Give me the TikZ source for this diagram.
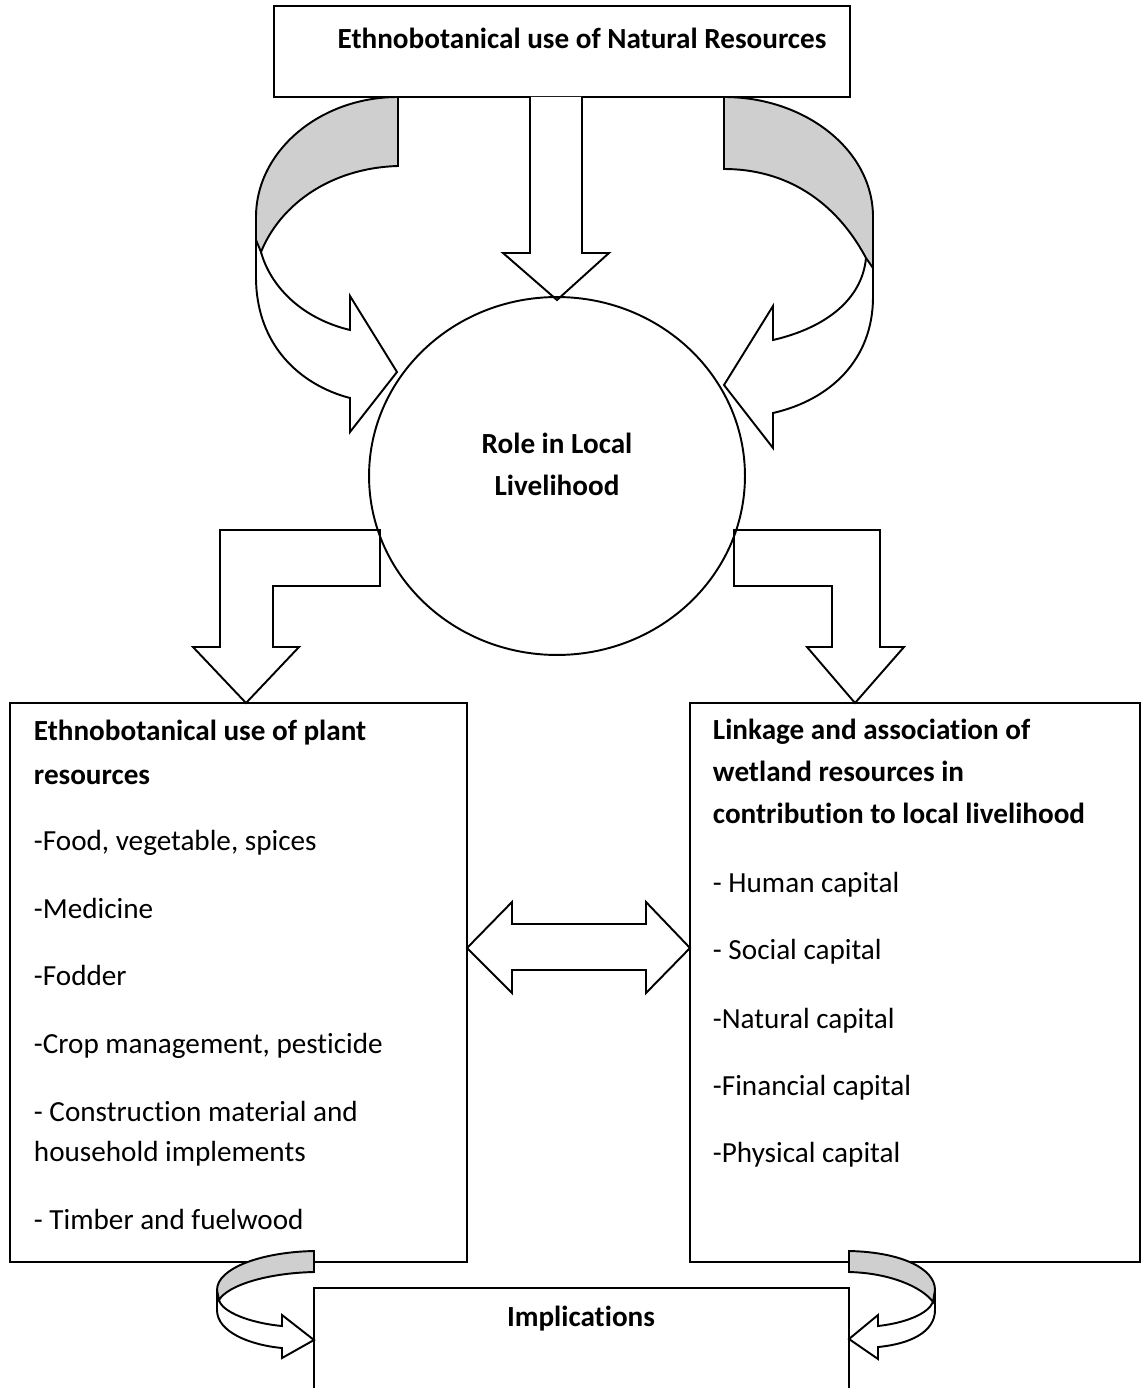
\documentclass[tikz,border=0pt]{standalone}
\usepackage{fontspec}
\setmainfont{Carlito}[Ligatures={NoCommon,NoContextual,NoDiscretionary}, Contextuals=NoAlternate]
\usetikzlibrary{shapes.geometric}
\usetikzlibrary{fit}

\begin{document}
\begin{tikzpicture}[x=.02cm, y=-.02cm, line width=1.1pt]
\tikzset{
  box/.style={draw, inner sep=0pt},
  shaft/.style={draw, fill=white, line join=miter},
  back/.style={draw, fill=black!19, line join=miter},
  txt/.style={font=\fontsize{16.6}{20}\selectfont, inner sep=0pt, text height=12pt, text depth=2pt},
  head/.style={txt, font=\fontsize{16.6}{20}\selectfont\bfseries},
}
\useasboundingbox (0,0) rectangle (1142,1388);

% boxes
\node[box, fit={(274,6) (850,97)}] (src) {};
\node[box, fit={(10,703) (467,1262)}] (plant) {};
\node[box, fit={(690,703) (1140,1262)}] (link) {};
\node[box, fit={(314,1288) (849,1400)}] (impl) {};

% straight block arrows
\draw[shaft] (530,97) -- (530,253) -- (503,253) -- (557,300) -- (609,253) -- (582,253) -- (582,97);
\draw[shaft] (220,530) -- (380,530) -- (380,586) -- (273,586) -- (273,647) -- (299,647) -- (246,703) -- (193,647) -- (220,647) -- cycle;
\draw[shaft] (734,530) -- (880,530) -- (880,647) -- (904,647) -- (855,703) -- (807,647) -- (832,647) -- (832,586) -- (734,586) -- cycle;
\draw[shaft] (467,948) -- (512,902) -- (512,924) -- (646,924) -- (646,902) -- (690,948) -- (646,993) -- (646,970) -- (512,970) -- (512,993) -- cycle;

% curved arrows: front side first, then the grey back side
\draw[shaft] (256,217) -- (256,277) .. controls (256,345) and (300,385) .. (350,398) -- (350,432) -- (397,372) -- (350,296) -- (350,330) .. controls (300,318) and (270,285) .. (261,252);
\draw[back] (398,97) .. controls (320,97) and (256,151) .. (256,217) -- (256,240) -- (261,252) .. controls (280,205) and (330,168) .. (398,166) -- cycle;

\draw[shaft] (873,217) -- (873,297) .. controls (873,360) and (830,400) .. (773,413) -- (773,448) -- (724,385) -- (773,306) -- (773,340) .. controls (825,328) and (862,300) .. (866,258);
\draw[back] (724,97) .. controls (805,97) and (873,150) .. (873,217) -- (873,268) -- (866,258) .. controls (835,200) and (785,169) .. (724,169) -- cycle;

\draw[shaft] (217,1290) -- (217,1310) .. controls (217,1332) and (250,1345) .. (282,1348) -- (282,1358) -- (314,1340) -- (282,1315) -- (282,1326) .. controls (250,1323) and (222,1312) .. (219,1300);
\draw[back] (314,1251) .. controls (262,1252) and (217,1268) .. (217,1290) -- (219,1300) .. controls (228,1285) and (268,1273) .. (314,1272) -- cycle;

\draw[shaft] (935,1290) -- (935,1310) .. controls (935,1332) and (910,1344) .. (878,1347) -- (878,1359) -- (849,1339) -- (878,1315) -- (878,1326) .. controls (905,1323) and (928,1314) .. (933,1302);
\draw[back] (849,1251) .. controls (900,1252) and (935,1268) .. (935,1290) -- (933,1302) .. controls (922,1287) and (890,1273) .. (849,1272) -- cycle;

% ellipse
\node[draw, ellipse, minimum width=7.52cm, minimum height=7.16cm, inner sep=0pt] (role) at (557,476) {};

% texts
\node[head] (srctxt) at (582,40) {Ethnobotanical use of Natural Resources};
\foreach \y/\t [count=\i] in {445/Role in Local, 487/Livelihood}
  \node[head] (role\i) at (557,\y) {\t};
\node[head] (impltxt) at (581,1318) {Implications};

\foreach \y/\t [count=\i] in {732/Ethnobotanical use of plant, 776/resources}
  \node[head, anchor=west] (plantT\i) at (33,\y) {\t};
\foreach \y/\t [count=\i] in {842/{-Food, vegetable, spices}, 910/-Medicine, 977/-Fodder,
    1045/{-Crop management, pesticide}, 1113/- Construction material and,
    1153/household implements, 1221/- Timber and fuelwood}
  \node[txt, anchor=west] (plantI\i) at (33,\y) {\t};

\foreach \y/\t [count=\i] in {731/Linkage and association of, 773/wetland resources in,
    815/contribution to local livelihood}
  \node[head, anchor=west] (linkT\i) at (712,\y) {\t};
\foreach \y/\t [count=\i] in {884/- Human capital, 951/- Social capital, 1020/-Natural capital,
    1087/-Financial capital, 1154/-Physical capital}
  \node[txt, anchor=west] (linkI\i) at (712,\y) {\t};
\end{tikzpicture}
\end{document}
